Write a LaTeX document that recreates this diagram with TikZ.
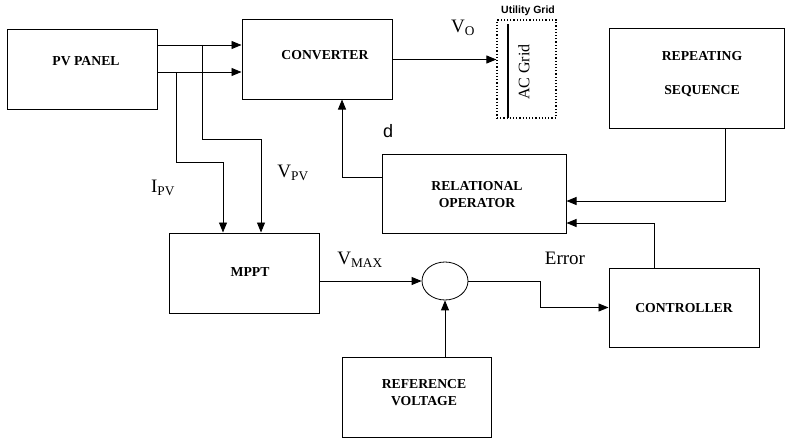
\documentclass[tikz,border=0pt]{standalone}
\usepackage{fontspec}
\setmainfont{Liberation Serif}
\newfontfamily\gridfont{Liberation Sans}
\usetikzlibrary{arrows.meta,shapes.geometric,calc}

\tikzset{
  block/.style={draw, rectangle, line width=1pt, inner sep=0pt},
  blocktext/.style={font=\fontsize{13.7}{17}\selectfont\bfseries, align=center, inner sep=0pt},
  sig/.style={font=\fontsize{19}{22}\selectfont, inner sep=0pt},
  arr/.style={line width=0.9pt, -{Triangle[length=10pt,width=8pt]}}
}

\begin{document}
\begin{tikzpicture}[x=1pt,y=-1pt]
\useasboundingbox (0,0) rectangle (791,444);
% blocks
\node[block, minimum width=150pt, minimum height=79pt] (pv) at (82,69.5) {};
\node[block, minimum width=150pt, minimum height=79pt] (conv) at (317,59.5) {};
\node[block, minimum width=184pt, minimum height=79pt] (rel) at (474,193.5) {};
\node[block, minimum width=175pt, minimum height=99pt] (rep) at (696.5,78.5) {};
\node[block, minimum width=150pt, minimum height=80pt] (mppt) at (244,273) {};
\node[block, minimum width=150pt, minimum height=79pt] (ctrl) at (684,307.5) {};
\node[block, minimum width=149pt, minimum height=80pt] (ref) at (416.5,397) {};
\node[draw, ellipse, line width=0.8pt, minimum width=46pt, minimum height=38pt, inner sep=0pt] (sum) at (445,281) {};
\node[blocktext] (pvtext) at (86,61) {PV PANEL};
\node[blocktext] (convtext) at (325,55) {CONVERTER};
\node[blocktext] (reltext) at (477,194.5) {RELATIONAL\\OPERATOR};
\node[blocktext] (reptext) at (702,74) {REPEATING\\[17pt]SEQUENCE};
\node[blocktext] (mppttext) at (250,272) {MPPT};
\node[blocktext] (ctrltext) at (684,308) {CONTROLLER};
\node[blocktext] (reftext) at (424,392.5) {REFERENCE\\VOLTAGE};
% utility grid
\node[draw, dotted, line width=1.2pt, minimum width=59pt, minimum height=98pt, inner sep=0pt] (grid) at (526.5,69) {};
\draw[line width=1.5pt] ([xshift=11.5pt,yshift=-5pt]grid.north west) -- ([xshift=11.5pt,yshift=1pt]grid.south west);
\node[rotate=90, font=\fontsize{16}{18}\selectfont, inner sep=0pt] (acgrid) at (524,72) {AC Grid};
\node[font=\gridfont\fontsize{10.5}{12}\selectfont\bfseries, inner sep=0pt] (utlabel) at (528,11) {Utility Grid};
% connectors
\coordinate (vtap) at (157,45);
\coordinate (itap) at (157,72);
\draw[arr] (vtap) -- (vtap -| conv.west);
\draw[arr] (itap) -- (itap -| conv.west);
\draw[arr] ($(vtap)+(45,0)$) -- ++(0,94) -| ([xshift=17pt]mppt.north);
\draw[arr] ($(itap)+(19,0)$) -- ++(0,90) -| ([xshift=-21pt]mppt.north);
\draw[arr] (conv.east) -- (conv.east -| grid.west);
\draw[arr] ([yshift=16.5pt]rel.west) -| ([xshift=25pt]conv.south);
\draw[arr] ([xshift=28.5pt]rep.south) |- ([yshift=-7.5pt]rel.east);
\draw[arr] ([xshift=-30pt]ctrl.north) |- ([yshift=-29.5pt]rel.east);
\draw[arr] ([yshift=-8pt]mppt.east) -- (sum.west);
\draw[arr] (sum.east) -- ++(72,0) |- (ctrl.west);
\draw[arr] (ref.north -| sum.south) -- (sum.south);
% signal labels
\node[sig] (vpv) at (293,173) {V\textsubscript{PV}};
\node[sig] (ipv) at (163,188) {I\textsubscript{PV}};
\node[sig, font=\gridfont\fontsize{18}{20}\selectfont] (dlabel) at (388,131) {d};
\node[sig] (vo) at (463,28) {V\textsubscript{O}};
\node[sig] (vmax) at (360,260) {V\textsubscript{MAX}};
\node[sig] (err) at (565,258) {Error};
\end{tikzpicture}
\end{document}
